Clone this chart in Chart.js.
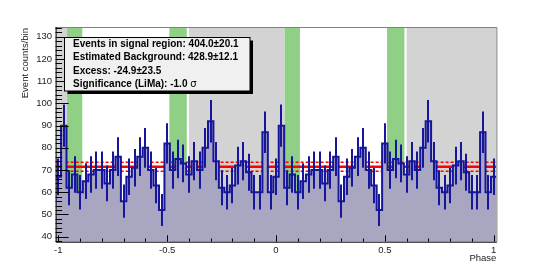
<!DOCTYPE html>
<html>
<head>
<meta charset="utf-8">
<script src="https://cdn.jsdelivr.net/npm/chart.js@4.4.0/dist/chart.umd.min.js"></script>
<style>
html, body { margin: 0; padding: 0; background: #fff; }
canvas { display: block; }
</style>
</head>
<body>
<canvas id="grafikFase" width="552" height="269"></canvas>
<script>
// Data histogram fase (satu periode, 40 bin, pusat bin 0, 0.025, ..., 0.975)
const binWidth = 0.025;
const countsPerBin = [67, 90, 62, 68, 60, 65, 68, 70, 70, 64,
                      70, 76, 56, 67, 71, 76, 80, 70, 63, 52,
                      82, 70, 75, 73, 68, 74, 70, 80, 92, 74,
                      62, 60, 63, 72, 74, 69, 60, 60, 87, 60];
const xTicks = [-1, -0.5, 0, 0.5, 1];
const yTicks = [40, 50, 60, 70, 80, 90, 100, 110, 120, 130];
const bgLevel = 71.48;      // 428.9 / 6 bin
const bgError = 2.02;       // 12.1 / 6 bin
const onRegions = [[0.04, 0.11], [0.51, 0.59]];
const offRegions = [[0.6, 1.04]];
const legendLines = [
    'Events in signal region: 404.0\u00b120.1',
    'Estimated Background: 428.9\u00b112.1',
    'Excess: -24.9\u00b123.5',
    'Significance (LiMa): -1.0 '
];

const xMin = -1 - binWidth / 2, xMax = 1 + binWidth / 2;

// susun bin dari -1 sampai 1 (periodik)
const bins = [];
for (let k = -40; k <= 40; k++) {
    const v = countsPerBin[((k % 40) + 40) % 40];
    bins.push({ c: k * binWidth, v: v });
}
const stepPoints = [];
bins.forEach(b => {
    stepPoints.push({ x: b.c - binWidth / 2, y: b.v });
    stepPoints.push({ x: b.c + binWidth / 2, y: b.v });
});
const flatLine = y => [{ x: xMin, y: y }, { x: xMax, y: y }];

const BLUE = '#16169a';

const pitaFase = {
    id: 'pitaFase',
    beforeDatasetsDraw(chart) {
        const { ctx, chartArea: a, scales: { x } } = chart;
        ctx.save();
        ctx.beginPath();
        ctx.rect(a.left, a.top, a.width, a.height);
        ctx.clip();
        for (let s = -2; s <= 1; s++) {
            ctx.fillStyle = '#d3d3d3';
            offRegions.forEach(([p, q]) => {
                const x0 = x.getPixelForValue(p + s), x1 = x.getPixelForValue(q + s);
                ctx.fillRect(x0, a.top, x1 - x0, a.height);
            });
            ctx.fillStyle = '#8fd086';
            onRegions.forEach(([p, q]) => {
                const x0 = x.getPixelForValue(p + s), x1 = x.getPixelForValue(q + s);
                ctx.fillRect(x0, a.top, x1 - x0, a.height);
            });
        }
        ctx.restore();
    }
};

const errorBars = {
    id: 'errorBars',
    afterDatasetsDraw(chart) {
        const { ctx, chartArea: a, scales: { x, y } } = chart;
        ctx.save();
        ctx.beginPath();
        ctx.rect(a.left, a.top, a.width, a.height);
        ctx.clip();
        ctx.strokeStyle = BLUE;
        ctx.lineWidth = 2;
        bins.forEach(b => {
            const e = Math.sqrt(b.v);
            const px = Math.round(x.getPixelForValue(b.c));
            ctx.beginPath();
            ctx.moveTo(px, y.getPixelForValue(b.v - e));
            ctx.lineTo(px, y.getPixelForValue(b.v + e));
            ctx.stroke();
        });
        ctx.restore();
    }
};

const bingkai = {
    id: 'bingkai',
    afterDraw(chart) {
        const { ctx, chartArea: a, scales: { x, y } } = chart;
        ctx.save();
        // frame
        ctx.lineWidth = 1;
        ctx.strokeStyle = '#808080';
        ctx.beginPath();
        ctx.moveTo(a.left, a.top + 0.5); ctx.lineTo(a.right + 0.5, a.top + 0.5);
        ctx.lineTo(a.right + 0.5, a.bottom);
        ctx.stroke();
        ctx.strokeStyle = '#000';
        ctx.beginPath();
        ctx.moveTo(a.left + 0.5, a.top); ctx.lineTo(a.left + 0.5, a.bottom + 0.5);
        ctx.lineTo(a.right + 0.5, a.bottom + 0.5);
        ctx.stroke();
        // y ticks
        ctx.beginPath();
        for (let v = 38; v <= 134; v += 2) {
            const py = Math.round(y.getPixelForValue(v)) + 0.5;
            const len = v % 10 === 0 ? 13 : 6.5;
            ctx.moveTo(a.left, py); ctx.lineTo(a.left + len, py);
        }
        // x ticks
        for (let i = -10; i <= 10; i++) {
            const v = i / 10;
            const px = Math.round(x.getPixelForValue(v)) + 0.5;
            const len = i % 5 === 0 ? 6.4 : 3.2;
            ctx.moveTo(px, a.bottom); ctx.lineTo(px, a.bottom - len);
        }
        ctx.stroke();

        // judul sumbu
        ctx.fillStyle = '#222';
        ctx.font = '9.5px "Liberation Sans", Arial, sans-serif';
        ctx.textAlign = 'right';
        ctx.textBaseline = 'alphabetic';
        ctx.fillText('Phase', a.right, 261);
        ctx.save();
        ctx.translate(28, a.top + 1);
        ctx.rotate(-Math.PI / 2);
        ctx.fillText('Event counts/bin', 0, 0);
        ctx.restore();

        // kotak keterangan
        const bx = 64.5, by = 37.5, bw = 185.5, bh = 53.5;
        ctx.fillStyle = '#000';
        ctx.fillRect(bx + 3, by + 3, bw, bh);
        ctx.fillStyle = '#f0f0f0';
        ctx.fillRect(bx, by, bw, bh);
        ctx.strokeStyle = '#000';
        ctx.strokeRect(bx, by, bw, bh);
        ctx.fillStyle = '#000';
        ctx.textAlign = 'left';
        ctx.font = 'bold 10px "Liberation Sans", Arial, sans-serif';
        legendLines.forEach((t, i) => {
            ctx.fillText(t, 73, 47 + i * 13.4);
        });
        const w = ctx.measureText(legendLines[3]).width;
        ctx.font = '10px "DejaVu Sans", sans-serif';
        ctx.fillText('\u03c3', 73 + w, 47 + 3 * 13.4);
        ctx.restore();
    }
};

const ctxFase = document.getElementById('grafikFase').getContext('2d');
const grafikFase = new Chart(ctxFase, {
    type: 'line',
    data: {
        datasets: [{
            label: 'Histogram',
            data: stepPoints,
            borderColor: BLUE,
            borderWidth: 2,
            backgroundColor: '#a9a6c2',
            fill: 'start',
            pointRadius: 0,
            tension: 0
        }, {
            label: 'Background',
            data: flatLine(bgLevel),
            borderColor: '#ff0000',
            borderWidth: 2.5,
            pointRadius: 0,
            fill: false
        }, {
            label: 'Background +1s',
            data: flatLine(bgLevel + bgError),
            borderColor: '#ff0000',
            borderWidth: 1.5,
            borderDash: [3, 2],
            pointRadius: 0,
            fill: false
        }, {
            label: 'Background -1s',
            data: flatLine(bgLevel - bgError),
            borderColor: '#ff0000',
            borderWidth: 1.5,
            borderDash: [3, 2],
            pointRadius: 0,
            fill: false
        }]
    },
    options: {
        responsive: false,
        animation: false,
        devicePixelRatio: 1,
        layout: { padding: { left: 0, right: 55.6, top: 27, bottom: 0 } },
        plugins: { legend: { display: false }, tooltip: { enabled: false } },
        scales: {
            x: {
                type: 'linear',
                min: xMin,
                max: xMax,
                grid: { display: false, drawTicks: false },
                border: { display: false },
                afterBuildTicks: s => { s.ticks = xTicks.map(v => ({ value: v })); },
                afterFit: s => { s.height = 27.3; },
                ticks: {
                    padding: 3,
                    maxRotation: 0,
                    color: '#222',
                    font: { family: '"Liberation Sans", Arial, sans-serif', size: 9.5 },
                    callback: v => String(v)
                }
            },
            y: {
                min: 37.75,
                max: 134.4,
                grid: { display: false, drawTicks: false },
                border: { display: false },
                afterBuildTicks: s => { s.ticks = yTicks.map(v => ({ value: v })); },
                afterFit: s => { s.width = 55.6; },
                ticks: {
                    padding: 3.5,
                    color: '#222',
                    font: { family: '"Liberation Sans", Arial, sans-serif', size: 9.5 },
                    callback: v => String(v)
                }
            }
        }
    },
    plugins: [pitaFase, errorBars, bingkai]
});
</script>
</body>
</html>
